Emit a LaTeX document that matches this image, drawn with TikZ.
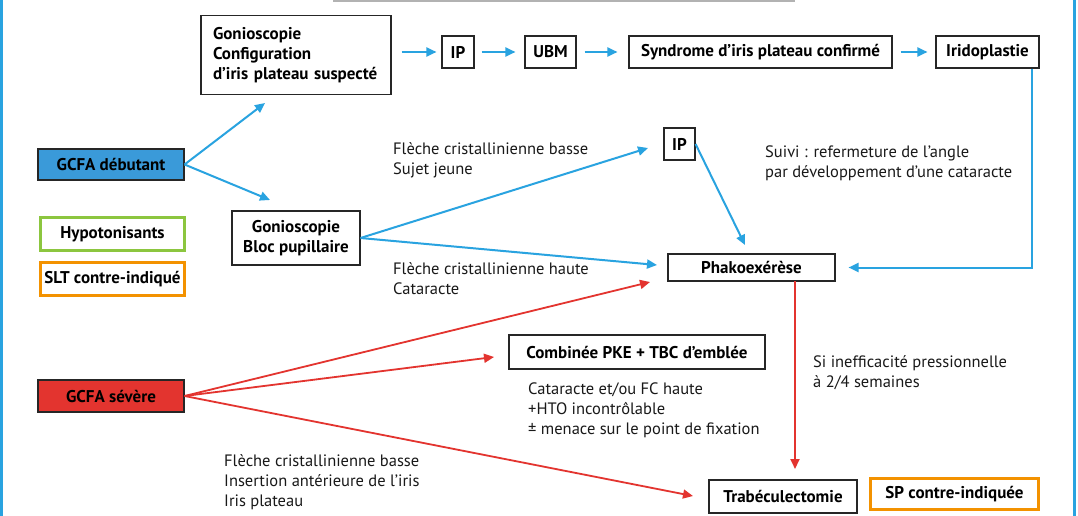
\documentclass[tikz,border=0pt]{standalone}
\usepackage{fontspec}
\setmainfont{PT Sans}
\usetikzlibrary{arrows.meta}
\definecolor{cblue}{HTML}{29A3E0}
\definecolor{cfill}{HTML}{3A9AD9}
\definecolor{cred}{HTML}{E3342F}
\definecolor{cgreen}{HTML}{8CC63F}
\definecolor{corange}{HTML}{F39200}
\tikzset{
 box/.style={draw=black!85, line width=1.1pt, fill=white, font=\bfseries\fontsize{17}{20}\selectfont, inner sep=0pt, align=center},
 cbox/.style={box, line width=3pt},
 lbl/.style={font=\fontsize{16.5}{20}\selectfont, align=left, anchor=west, inner sep=0pt, text=black!90},
 barrow/.style={draw=cblue, line width=2pt, -{Triangle[length=10pt,width=9pt]}},
 rarrow/.style={draw=cred, line width=1.8pt, -{Triangle[length=10pt,width=9pt]}},
}
\begin{document}
\begin{tikzpicture}[x=1pt,y=-1pt]
\useasboundingbox (0,0) rectangle (1078,516);
\fill[white] (0,0) rectangle (1078,516);
% frame
\draw[cblue, line width=3pt] (1.5,0) -- (1.5,516);
\draw[cblue, line width=3pt] (1074.5,0) -- (1074.5,516);
\draw[gray!60, line width=1.5pt] (333,1) -- (795,1);

% nodes
\node[box, minimum width=190pt, minimum height=79pt, text width=166pt, align=left] (gc) at (296,55) {Gonioscopie\\Configuration\\d'iris plateau suspecté};
\node[box, minimum width=32pt, minimum height=32pt] (ip1) at (458,52) {IP};
\node[box, minimum width=51pt, minimum height=32pt] (ubm) at (550.5,52) {UBM};
\node[box, minimum width=263pt, minimum height=32pt] (syn) at (760.5,52) {Syndrome d'iris plateau confirmé};
\node[box, minimum width=103pt, minimum height=32pt] (irid) at (987.5,52) {Iridoplastie};

\node[box, fill=cfill, minimum width=146pt, minimum height=31pt] (deb) at (111,164.5) {GCFA débutant};
\node[cbox, draw=cgreen, minimum width=144pt, minimum height=33pt] (hyp) at (112.5,234) {Hypotonisants};
\node[cbox, draw=corange, minimum width=144pt, minimum height=33pt] (slt) at (112.5,279) {SLT contre-indiqué};
\node[box, minimum width=128pt, minimum height=54pt] (bloc) at (296,238) {Gonioscopie\\Bloc pupillaire};

\node[box, minimum width=31pt, minimum height=32pt] (ip2) at (679.5,144) {IP};
\node[box, minimum width=167pt, minimum height=27pt] (phako) at (751.5,267.5) {Phakoexérèse};
\node[box, minimum width=256pt, minimum height=34pt] (comb) at (637,352) {Combinée PKE + TBC d'emblée};
\node[box, fill=cred, minimum width=146pt, minimum height=32pt] (sev) at (111,396) {GCFA sévère};
\node[box, minimum width=148pt, minimum height=33pt] (trab) at (783,496.5) {Trabéculectomie};
\node[cbox, draw=corange, minimum width=168pt, minimum height=31pt] (sp) at (954.5,494) {SP contre-indiquée};

% labels
\node[lbl] (t1) at (393,160) {Flèche cristallinienne basse\\Sujet jeune};
\node[lbl] (t2) at (393,279) {Flèche cristallinienne haute\\Cataracte};
\node[lbl] (t3) at (765,163) {Suivi : refermeture de l'angle\\par développement d'une cataracte};
\node[lbl] (t4) at (813,373) {Si inefficacité pressionnelle\\à 2/4 semaines};
\node[lbl] (t5) at (528,410) {Cataracte et/ou FC haute\\+HTO incontrôlable\\± menace sur le point de fixation};
\node[lbl] (t6) at (224,482) {Flèche cristallinienne basse\\Insertion antérieure de l'iris\\Iris plateau};

% arrow end coordinates
\coordinate (gcin) at (265,103);
\coordinate (blocin) at (270,200);
\coordinate (ip2in) at (648,148);
\coordinate (phin1) at (657,265);
\coordinate (phin2) at (745,245);
\coordinate (phin3) at (650,282);
\coordinate (combin) at (494,357);
\coordinate (trabin) at (693,496);
\coordinate (phout) at (795,281);
\coordinate (trabtop) at (795,469);

% blue arrows
\draw[barrow, shorten <=10pt, shorten >=5pt] (gc.east |- ip1.west) -- (ip1.west);
\draw[barrow, shorten <=7pt, shorten >=9pt] (ip1.east) -- (ubm.west);
\draw[barrow, shorten <=8pt, shorten >=11pt] (ubm.east) -- (syn.west);
\draw[barrow, shorten <=8pt, shorten >=8pt] (syn.east) -- (irid.west);
\draw[barrow] (deb.east) -- (gcin);
\draw[barrow] (deb.east) -- (blocin);
\draw[barrow] (bloc.east) -- (ip2in);
\draw[barrow] (bloc.east) -- (phin1);
\draw[barrow] (ip2.east) -- (phin2);
\draw[barrow, shorten >=13pt] ([xshift=-8pt]irid.south east) |- (phako.east);

% red arrows
\draw[rarrow] (sev.east) -- (phin3);
\draw[rarrow] (sev.east) -- (combin);
\draw[rarrow] (sev.east) -- (trabin);
\draw[rarrow] (phout) -- (trabtop);
\end{tikzpicture}
\end{document}
